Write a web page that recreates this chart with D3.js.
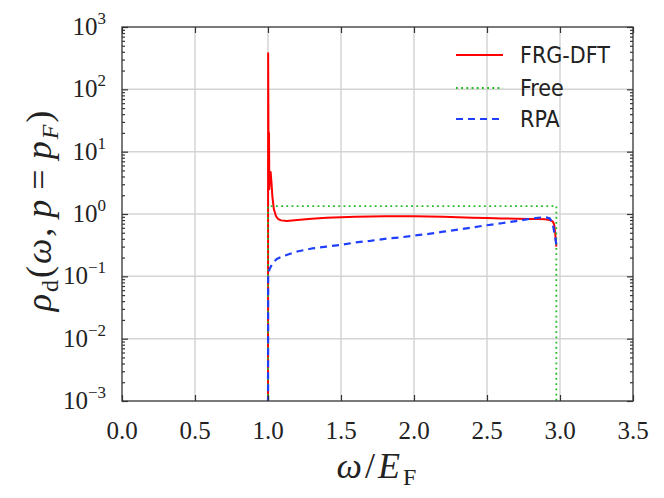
<!DOCTYPE html>
<html lang="en">
<head>
	<meta charset="UTF-8">
	<title>Spectral function</title>
	<script src="https://cdn.jsdelivr.net/npm/d3@7"></script>
	<style>
		body { margin: 0; background: white; }
		svg { display: block; }
		.serif { font-family: "Liberation Serif", "Times New Roman", serif; }
		.legend text { font-family: "DejaVu Sans Condensed", "DejaVu Sans", sans-serif; font-stretch: condensed; font-size: 23px; fill: #222; }
	</style>
</head>
<body>
	<div id="vis"></div>

	<script>
		var width = 664;
		var height = 498;

		// data
		var xTicks = [0.0, 0.5, 1.0, 1.5, 2.0, 2.5, 3.0, 3.5];
		var yExponents = [-3, -2, -1, 0, 1, 2, 3];

		var frgX = [1.0, 1.001, 1.003, 1.005, 1.007, 1.009, 1.013, 1.018, 1.024, 1.03, 1.04, 1.055, 1.07, 1.09, 1.13,
			1.2, 1.3, 1.4, 1.5, 1.6, 1.7, 1.8, 1.9, 2.0, 2.1, 2.2, 2.3, 2.4, 2.5, 2.6, 2.7, 2.8, 2.85, 2.9,
			2.93, 2.95, 2.96, 2.965, 2.97, 2.975];
		var frgY = [1e-4, 380, 25, 3, 20, 2.5, 3.8, 4.7, 3.2, 1.9, 1.2, 0.92, 0.83, 0.79, 0.77,
			0.8, 0.84, 0.87, 0.89, 0.9, 0.91, 0.92, 0.92, 0.92, 0.91, 0.9, 0.89, 0.87, 0.86, 0.85, 0.84, 0.83, 0.83, 0.82,
			0.8, 0.76, 0.68, 0.55, 0.42, 0.3];

		var freeX = [1.0, 1.0, 2.975, 2.975];
		var freeY = [1e-4, 1.34, 1.34, 1e-4];

		var rpaX = [1.0, 1.001, 1.01, 1.03, 1.06, 1.1, 1.2, 1.3, 1.4, 1.5, 1.6, 1.7, 1.8, 1.9, 2.0, 2.1, 2.2, 2.3,
			2.4, 2.5, 2.6, 2.7, 2.8, 2.85, 2.9, 2.93, 2.95, 2.965, 2.975];
		var rpaY = [1e-4, 0.1, 0.13, 0.16, 0.19, 0.21, 0.25, 0.28, 0.3, 0.32, 0.35, 0.37, 0.4, 0.42, 0.45, 0.48, 0.52, 0.56,
			0.61, 0.66, 0.71, 0.77, 0.84, 0.87, 0.89, 0.85, 0.7, 0.45, 0.32];

		var seriesNames = ["FRG-DFT", "Free", "RPA"];

		// plot box in pixels
		var x0 = 122, x1 = 633, y0 = 27, y1 = 401;

		var svg = d3.select("#vis").append("svg")
				.attr("width", width)
				.attr("height", height);

		var x = d3.scaleLinear().domain([0, 3.5]).range([x0, x1]);
		var y = d3.scaleLog().domain([1e-3, 1e3]).range([y1, y0]);

		var yMajor = yExponents.map(function(e) { return Math.pow(10, e); });
		var yMinor = [];
		yExponents.slice(0, -1).forEach(function(e) {
			for (var k = 2; k < 10; k++) yMinor.push(k * Math.pow(10, e));
		});

		// grid
		var grid = svg.append("g").attr("stroke", "#d4d4d4").attr("stroke-width", 1.5);
		grid.selectAll(".gx").data(xTicks.slice(1, -1)).enter().append("line")
			.attr("x1", function(d) { return x(d); }).attr("x2", function(d) { return x(d); })
			.attr("y1", y0).attr("y2", y1);
		grid.selectAll(".gy").data(yMajor.slice(1, -1)).enter().append("line")
			.attr("y1", function(d) { return y(d); }).attr("y2", function(d) { return y(d); })
			.attr("x1", x0).attr("x2", x1);

		// curves
		svg.append("clipPath").attr("id", "clip").append("rect")
			.attr("x", x0).attr("y", y0).attr("width", x1 - x0).attr("height", y1 - y0);

		var line = d3.line()
			.x(function(d) { return x(d[0]); })
			.y(function(d) { return y(d[1]); });

		function pairs(xs, ys) { return xs.map(function(v, i) { return [v, ys[i]]; }); }

		var styles = [
			{ color: "#ff0000", width: 2, dash: null },
			{ color: "#22bb22", width: 1.8, dash: "1.8,3.4" },
			{ color: "#1f3fff", width: 2.2, dash: "7,5" }
		];

		var plot = svg.append("g").attr("clip-path", "url(#clip)");
		// same order as the legend, RPA ends up on top
		var curves = [pairs(frgX, frgY), pairs(freeX, freeY), pairs(rpaX, rpaY)];
		plot.selectAll("path").data(curves).enter().append("path")
			.attr("d", line)
			.attr("fill", "none")
			.attr("stroke", function(d, i) { return styles[i].color; })
			.attr("stroke-width", function(d, i) { return styles[i].width; })
			.attr("stroke-dasharray", function(d, i) { return styles[i].dash; })
			.attr("stroke-linejoin", "round");

		// axes with inward ticks
		function styleAxis(g) {
			g.select(".domain").remove();
			g.selectAll(".tick line").attr("stroke", "#333").attr("stroke-width", 1.2);
		}
		svg.append("g").attr("transform", "translate(0," + y1 + ")")
			.call(d3.axisBottom(x).tickValues(xTicks).tickSize(-6).tickFormat("")).call(styleAxis);
		svg.append("g").attr("transform", "translate(0," + y0 + ")")
			.call(d3.axisTop(x).tickValues(xTicks).tickSize(-6).tickFormat("")).call(styleAxis);
		svg.append("g").attr("transform", "translate(" + x0 + ",0)")
			.call(d3.axisLeft(y).tickValues(yMajor).tickSize(-6).tickFormat("")).call(styleAxis);
		svg.append("g").attr("transform", "translate(" + x0 + ",0)")
			.call(d3.axisLeft(y).tickValues(yMinor).tickSize(-3).tickFormat("")).call(styleAxis);
		svg.append("g").attr("transform", "translate(" + x1 + ",0)")
			.call(d3.axisRight(y).tickValues(yMajor).tickSize(-6).tickFormat("")).call(styleAxis);
		svg.append("g").attr("transform", "translate(" + x1 + ",0)")
			.call(d3.axisRight(y).tickValues(yMinor).tickSize(-3).tickFormat("")).call(styleAxis);

		svg.append("rect")
			.attr("x", x0).attr("y", y0).attr("width", x1 - x0).attr("height", y1 - y0)
			.attr("fill", "none").attr("stroke", "#333").attr("stroke-width", 1.3);

		// tick labels
		svg.append("g").attr("class", "serif").selectAll("text").data(xTicks).enter().append("text")
			.attr("x", function(d) { return x(d); })
			.attr("y", 439)
			.attr("text-anchor", "middle")
			.attr("font-size", 25)
			.attr("fill", "#222")
			.text(function(d) { return d.toFixed(1); });

		var yl = svg.append("g").attr("class", "serif").selectAll("text").data(yExponents).enter().append("text")
			.attr("x", 106)
			.attr("y", function(d) { return y(Math.pow(10, d)) + 8; })
			.attr("text-anchor", "end")
			.attr("font-size", 25)
			.attr("fill", "#222");
		yl.append("tspan").text("10");
		yl.append("tspan").attr("dy", -11).attr("font-size", 17)
			.text(function(d) { return d < 0 ? "\u2212" + (-d) : String(d); });

		// axis titles
		var xt = svg.append("text").attr("class", "serif")
			.attr("x", 378).attr("y", 478)
			.attr("text-anchor", "middle")
			.attr("font-size", 36)
			.attr("letter-spacing", 3)
			.attr("fill", "#222");
		xt.append("tspan").attr("font-style", "italic").text("\u03c9");
		xt.append("tspan").text("/");
		xt.append("tspan").attr("font-style", "italic").text("E");
		xt.append("tspan").attr("dy", 7).attr("font-size", 24).text("F");

		var ytl = svg.append("text").attr("class", "serif")
			.attr("transform", "translate(51,210) rotate(-90)")
			.attr("text-anchor", "middle")
			.attr("font-size", 36)
			.attr("letter-spacing", 2)
			.attr("fill", "#222");
		ytl.append("tspan").attr("font-style", "italic").text("\u03c1");
		ytl.append("tspan").attr("dy", 7).attr("font-size", 24).text("d");
		ytl.append("tspan").attr("dy", -7).text("(");
		ytl.append("tspan").attr("font-style", "italic").text("\u03c9");
		ytl.append("tspan").text(",");
		ytl.append("tspan").attr("dx", 8).attr("font-style", "italic").text("p");
		ytl.append("tspan").attr("dx", 8).text("=");
		ytl.append("tspan").attr("dx", 8).attr("font-style", "italic").text("p");
		ytl.append("tspan").attr("dy", 7).attr("font-size", 24).attr("font-style", "italic").text("F");
		ytl.append("tspan").attr("dy", -7).text(")");

		// legend
		var legendY = [55, 88, 119];
		var legend = svg.append("g").attr("class", "legend");
		var items = legend.selectAll("g").data(seriesNames).enter().append("g")
			.attr("transform", function(d, i) { return "translate(0," + legendY[i] + ")"; });
		items.append("line")
			.attr("x1", 456).attr("x2", 503)
			.attr("stroke", function(d, i) { return styles[i].color; })
			.attr("stroke-width", function(d, i) { return styles[i].width; })
			.attr("stroke-dasharray", function(d, i) { return styles[i].dash; });
		items.append("text")
			.attr("x", 520).attr("y", 8)
			.text(function(d) { return d; });
	</script>
</body>
</html>
